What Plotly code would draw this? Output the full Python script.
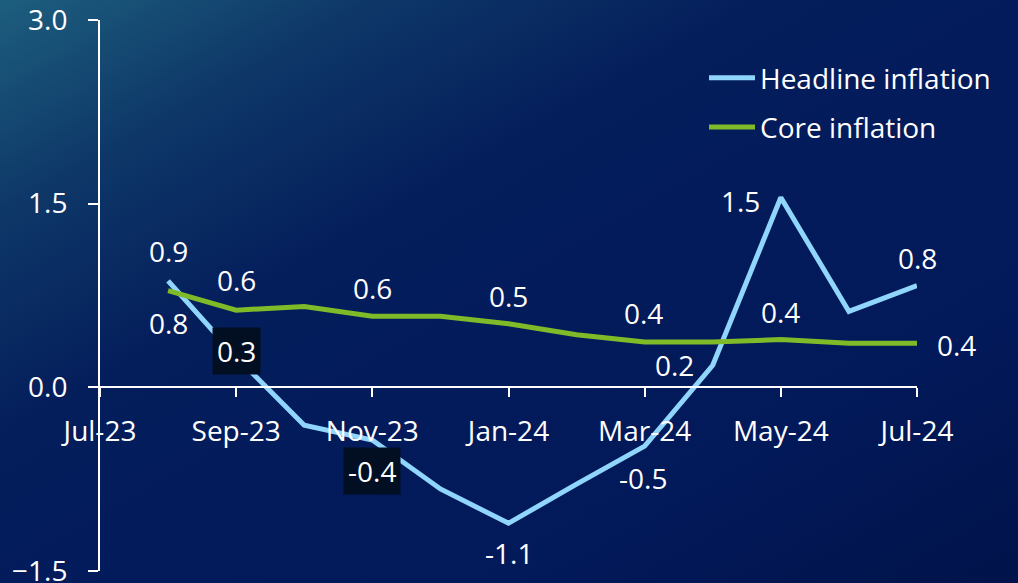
import base64
import plotly.graph_objects as go

# ---- data ----
months = ["Jul-23", "Aug-23", "Sep-23", "Oct-23", "Nov-23", "Dec-23", "Jan-24",
          "Feb-24", "Mar-24", "Apr-24", "May-24", "Jun-24", "Jul-24"]
data_months = months[1:]
headline = [0.87, 0.25, -0.31, -0.43, -0.83, -1.11, -0.79, -0.48, 0.18, 1.55, 0.62, 0.83]
core = [0.79, 0.63, 0.66, 0.58, 0.58, 0.52, 0.43, 0.37, 0.37, 0.39, 0.36, 0.36]
tick_months = ["Jul-23", "Sep-23", "Nov-23", "Jan-24", "Mar-24", "May-24", "Jul-24"]
y_ticks = [-1.5, 0.0, 1.5, 3.0]

headline_labels = {"Aug-23": "0.9", "Sep-23": "0.3", "Nov-23": "-0.4", "Jan-24": "-1.1",
                   "Mar-24": "-0.5", "Apr-24": "0.2", "May-24": "1.5", "Jul-24": "0.8"}
core_labels = {"Aug-23": "0.8", "Sep-23": "0.6", "Nov-23": "0.6", "Jan-24": "0.5",
               "Mar-24": "0.4", "May-24": "0.4", "Jul-24": "0.4"}

# ---- styles ----
HL_COLOR = "#90d5fc"
CORE_COLOR = "#7fbb28"
FONT = "Open Sans"
FS = 28

hl_style = {"Aug-23": (0, -30, False), "Sep-23": (0, -6, True), "Nov-23": (0, 31, True),
            "Jan-24": (0, 30, False), "Mar-24": (-2, 32, False), "Apr-24": (-38, 0, False),
            "May-24": (-40, 3, False), "Jul-24": (0, -28, False)}
core_style = {"Aug-23": (0, 32), "Sep-23": (0, -30), "Nov-23": (0, -28), "Jan-24": (0, -28),
              "Mar-24": (-1, -29), "May-24": (0, -28), "Jul-24": (39, 2)}

W, H = 1018, 583
ML, MR, MT, MB = 100, 101, 20, 12
PW, PH = W - ML - MR, H - MT - MB

svg = f'''<svg xmlns="http://www.w3.org/2000/svg" width="{W}" height="{H}" preserveAspectRatio="none">
<defs><linearGradient id="g" x1="0" y1="0" x2="1" y2="1" gradientUnits="objectBoundingBox">
<stop offset="0" stop-color="#1d5e7e"/>
<stop offset="0.18" stop-color="#0e3868"/>
<stop offset="0.38" stop-color="#041d5b"/>
<stop offset="0.75" stop-color="#02195a"/>
<stop offset="1" stop-color="#01134a"/>
</linearGradient></defs>
<rect width="{W}" height="{H}" fill="url(#g)"/></svg>'''
bg_src = "data:image/svg+xml;base64," + base64.b64encode(svg.encode()).decode()

fig = go.Figure()
fig.add_trace(go.Scatter(x=data_months, y=headline, mode="lines", name="Headline inflation",
                         line=dict(color=HL_COLOR, width=5), legendgroup="a"))
fig.add_trace(go.Scatter(x=data_months, y=core, mode="lines", name="Core inflation",
                         line=dict(color=CORE_COLOR, width=5), legendgroup="b"))

annotations = []
for m, t in headline_labels.items():
    dx, dy, boxed = hl_style[m]
    yv = headline[data_months.index(m)]
    annotations.append(dict(x=m, y=yv, xref="x", yref="y", text=t, showarrow=False,
                            xshift=dx, yshift=-dy,
                            font=dict(family=FONT, size=FS, color="white"),
                            bgcolor="#020f22" if boxed else None, borderpad=4))
for m, t in core_labels.items():
    dx, dy = core_style[m]
    yv = core[data_months.index(m)]
    annotations.append(dict(x=m, y=yv, xref="x", yref="y", text=t, showarrow=False,
                            xshift=dx, yshift=-dy,
                            font=dict(family=FONT, size=FS, color="white")))

fig.update_layout(
    width=W, height=H,
    margin=dict(l=ML, r=MR, t=MT, b=MB, autoexpand=False),
    paper_bgcolor="#021a58", plot_bgcolor="rgba(0,0,0,0)",
    font=dict(family=FONT, size=FS, color="white"),
    showlegend=True,
    legend=dict(x=(704 - ML) / PW, y=1 - (53 - MT) / PH, xanchor="left", yanchor="top",
                bgcolor="rgba(0,0,0,0)", font=dict(family=FONT, size=FS, color="white"),
                tracegroupgap=10, traceorder="grouped", itemwidth=46),
    xaxis=dict(type="category", categoryorder="array", categoryarray=months,
               range=[0, len(months) - 1], tickvals=tick_months, ticktext=tick_months,
               showgrid=False, zeroline=False, showline=True, linecolor="white", linewidth=2,
               ticks="outside", ticklen=9, tickcolor="white", tickwidth=2,
               anchor="free", position=(0 - (-1.5)) / (3.0 - (-1.5)),
               ticklabelstandoff=10, automargin=False,
               tickfont=dict(family=FONT, size=FS, color="white")),
    yaxis=dict(range=[-1.5, 3.0], tickvals=y_ticks, tickformat=".1f",
               showgrid=False, zeroline=False, showline=True, linecolor="white", linewidth=2,
               ticks="outside", ticklen=10, tickcolor="white", tickwidth=2,
               ticklabelstandoff=15, automargin=False, ticklabeloverflow="allow",
               tickfont=dict(family=FONT, size=FS, color="white")),
    annotations=annotations,
    images=[dict(source=bg_src, xref="paper", yref="paper",
                 x=-ML / PW, y=1 + MT / PH, sizex=W / PW, sizey=H / PH,
                 xanchor="left", yanchor="top", sizing="stretch", layer="below")],
)

fig.write_html("out.html")
